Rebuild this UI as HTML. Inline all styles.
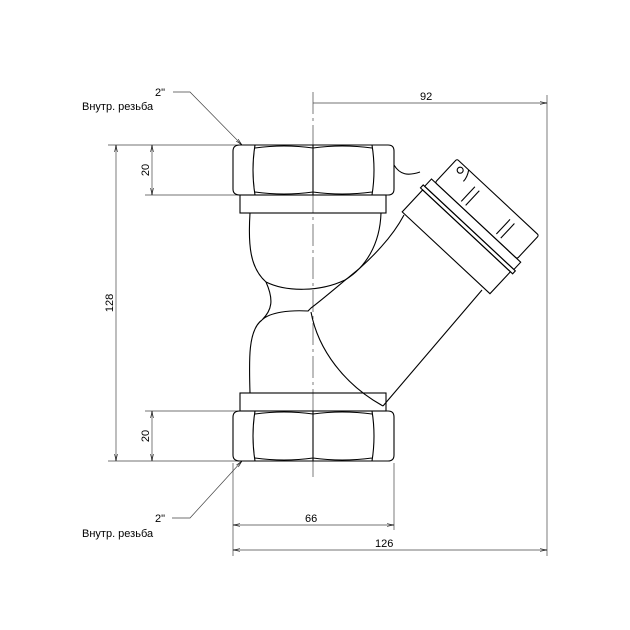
<!DOCTYPE html>
<html><head><style>body{margin:0;background:#fff}svg{display:block}text{font-family:"Liberation Sans",sans-serif;font-size:11px;fill:#000}</style></head><body>
<svg width="630" height="630" viewBox="0 0 630 630" xmlns="http://www.w3.org/2000/svg">
<defs><marker id="a" viewBox="0 0 10 6" refX="10" refY="3" markerWidth="10" markerHeight="6" orient="auto-start-reverse"><path d="M0,1 L10,3 L0,5" fill="none" stroke="#000" stroke-width="0.8"/></marker></defs>
<g stroke="#444" stroke-width="0.7" fill="none">
<line x1="313" y1="92" x2="313" y2="478" stroke-dasharray="22,4,3,4"/>
<line x1="108" y1="145" x2="240" y2="145"/><line x1="108" y1="461" x2="240" y2="461"/>
<line x1="145" y1="195" x2="240" y2="195"/><line x1="145" y1="411" x2="240" y2="411"/>
<line x1="233" y1="463" x2="233" y2="556"/><line x1="394" y1="463" x2="394" y2="530"/>
<line x1="547" y1="95" x2="547" y2="556"/>
<line x1="116" y1="145" x2="116" y2="461" marker-start="url(#a)" marker-end="url(#a)"/>
<line x1="152" y1="145" x2="152" y2="195" marker-start="url(#a)" marker-end="url(#a)"/>
<line x1="152" y1="411" x2="152" y2="461" marker-start="url(#a)" marker-end="url(#a)"/>
<line x1="233" y1="525" x2="394" y2="525" marker-start="url(#a)" marker-end="url(#a)"/>
<line x1="233" y1="550" x2="547" y2="550" marker-start="url(#a)" marker-end="url(#a)"/>
<line x1="313" y1="103" x2="547" y2="103" marker-end="url(#a)"/>
<polyline points="173,92 190,92 242,145" marker-end="url(#a)"/>
<polyline points="172,518 190,518 242,461" marker-end="url(#a)"/>
</g>
<text x="155" y="96">2"</text><text x="82" y="110">Внутр. резьба</text>
<text x="155" y="522">2"</text><text x="82" y="537">Внутр. резьба</text>
<text x="420" y="100">92</text><text x="305" y="522">66</text><text x="375" y="547">126</text>
<text transform="translate(113,303) rotate(-90)" text-anchor="middle">128</text>
<text transform="translate(149,170) rotate(-90)" text-anchor="middle">20</text>
<text transform="translate(149,436) rotate(-90)" text-anchor="middle">20</text>
<g stroke="#000" stroke-width="1.1" fill="none">
<path d="M240,145 H388 Q394,145 394,151 V189 Q394,195 388,195 H240 Q233,195 233,189 V151 Q233,145 240,145 Z"/>
<path d="M255,145 Q251,170 255,195 M372,145 Q376,170 372,195 M313,145 V195 M255,148 Q284,144 313,148 Q342,144 372,148 M255,192 Q284,196 313,192 Q342,196 372,192"/>
<rect x="240" y="195" width="146" height="18"/>
<path d="M240,411 H388 Q394,411 394,417 V455 Q394,461 388,461 H240 Q233,461 233,455 V417 Q233,411 240,411 Z"/>
<path d="M255,411 Q251,436 255,461 M372,411 Q376,436 372,461 M313,411 V461 M255,414 Q284,410 313,414 Q342,410 372,414 M255,458 Q284,462 313,458 Q342,462 372,458"/>
<rect x="240" y="393" width="146" height="18"/>
<path d="M250,213 C248,245 250,268 266,282 C286,292 320,292 345,280 C365,268 380,245 381,213"/>
<path d="M266,282 C274,300 272,310 262,320 C270,312 290,310 308,311 L311,308 C322,300 345,280 360,268 C380,250 395,232 404,215"/>
<path d="M262,320 C248,330 249,360 250,393"/>
<path d="M311,312 C318,350 345,385 383,406"/>
<path d="M394,165 C400,175 408,176 420,172"/>
<line x1="383" y1="406" x2="482" y2="290"/>
<g transform="translate(472,225) rotate(43)">
<rect x="-56" y="-38" width="112" height="32" rx="2"/>
<rect x="-61" y="-6" width="122" height="10"/>
<rect x="-63" y="4" width="126" height="4"/>
<rect x="-60" y="8" width="120" height="30"/>
<path d="M-24,-30 V-10 M-18,-30 V-10 M24,-30 V-10 M30,-30 V-10 M-40,-38 Q-36,-32 -36,-26"/>
<circle cx="-46" cy="-32" r="3"/>
</g>
</g>
</svg>
</body></html>
